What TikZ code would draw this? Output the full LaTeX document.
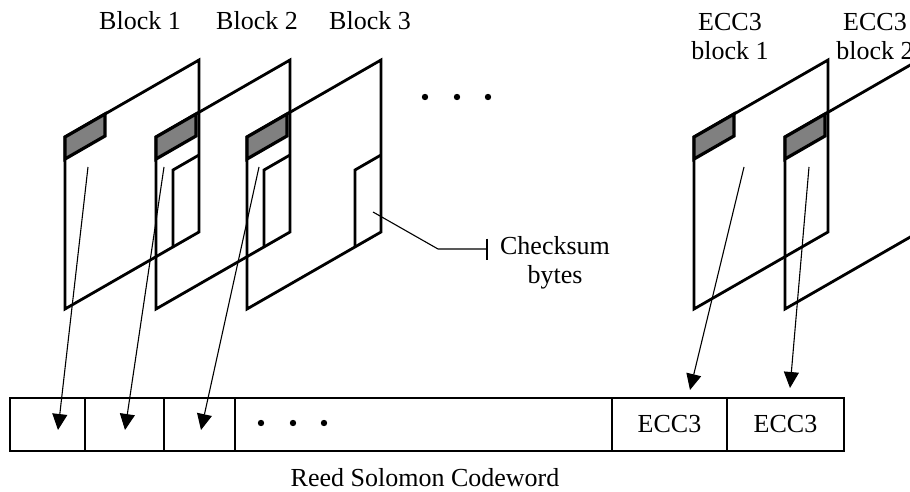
\documentclass[tikz,border=0pt]{standalone}
\usepackage{fontspec}
\setmainfont{Liberation Serif}
\usetikzlibrary{arrows.meta}
\definecolor{shadegray}{RGB}{128,128,128}
\begin{document}
\begin{tikzpicture}[x=1pt,y=-1pt,
  frame/.style={line width=2.8pt,line join=miter},
  shadebox/.style={fill=shadegray,draw=black,line width=3.2pt,line join=miter},
  cell/.style={draw,line width=2.7pt,minimum height=53pt,inner sep=0pt,font=\fontsize{26}{29}\selectfont},
  lbl/.style={font=\fontsize{26}{29}\selectfont,inner sep=0pt,align=center},
  arr/.style={line width=1.1pt,-{Triangle[length=16pt,width=15pt]}},
  leader/.style={line width=1.1pt,-{Bar[width=21pt,line width=1.8pt]}},
  dotmark/.style={fill=black,draw=none}
]
\useasboundingbox (0,0) rectangle (910,492);
\clip (0,0) rectangle (910,492);

% block frames
\foreach \x in {65,156,247,694,785} {
  \draw[frame] (\x,137) -- ++(134,-77) -- ++(0,172) -- ++(-134,77) -- cycle;
  \filldraw[shadebox] (\x,137) -- ++(40,-23) -- ++(0,22) -- ++(-40,23) -- cycle;
}
% checksum areas
\foreach \x in {65,156,247} {
  \draw[frame] (\x+134,155) -- (\x+108,170) -- (\x+108,247);
}

% labels
\node[lbl,anchor=base] (lb1) at (140,30) {Block 1};
\node[lbl,anchor=base] (lb2) at (257,30) {Block 2};
\node[lbl,anchor=base] (lb3) at (370,30) {Block 3};
\node[lbl,anchor=base] (le1) at (730,60) {ECC3\\block 1};
\node[lbl,anchor=base] (le2) at (875,60) {ECC3\\block 2};

% top dots
\foreach \xx in {425,457,488} { \fill[dotmark] (\xx,97) circle (3.2); }

% checksum leader
\coordinate (ck) at (373,212);
\coordinate (ckbend) at (438,249);
\coordinate (ckend) at (488,249);
\draw[leader] (ck) -- (ckbend) -- (ckend);
\node[lbl,anchor=base] (cklbl) at (555,283) {Checksum\\bytes};

% codeword bar
\node[cell,minimum width=75pt] (c1) at (47.5,424.5) {};
\node[cell,minimum width=79pt] (c2) at (124.5,424.5) {};
\node[cell,minimum width=71pt] (c3) at (199.5,424.5) {};
\node[cell,minimum width=377pt] (c4) at (423.5,424.5) {};
\node[cell,minimum width=115pt] (c5) at (669.5,424.5) {ECC3};
\node[cell,minimum width=117pt] (c6) at (785.5,424.5) {ECC3};
\foreach \xx in {261,293,324} { \fill[dotmark] (\xx,423) circle (3.2); }

\node[lbl,anchor=base] (rs) at (425,486) {Reed Solomon Codeword};

% arrows
\coordinate (s1) at (88,167);
\coordinate (s2) at (164,167);
\coordinate (s3) at (259,167);
\coordinate (s4) at (744,167);
\coordinate (s5) at (809,167);
\coordinate (t1) at (58,430);
\coordinate (t2) at (125,430);
\coordinate (t3) at (201,430);
\coordinate (t4) at (690,390);
\coordinate (t5) at (790,388);
\draw[arr] (s1) -- (t1);
\draw[arr] (s2) -- (t2);
\draw[arr] (s3) -- (t3);
\draw[arr] (s4) -- (t4);
\draw[arr] (s5) -- (t5);
\end{tikzpicture}
\end{document}
